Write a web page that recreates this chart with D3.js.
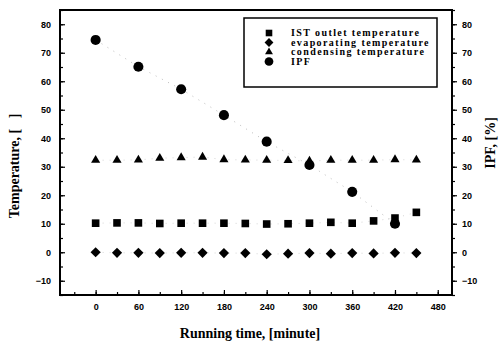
<!DOCTYPE html>
<html>
<head>
<meta charset="utf-8">
<script src="https://cdn.jsdelivr.net/npm/d3@7"></script>
<style>
  body { margin: 0; background: #fff; }
  .tick text { font-family: "Liberation Sans", Arial, sans-serif; font-weight: bold; font-size: 9px; }
  .title { font-family: "Liberation Serif", "Times New Roman", serif; font-weight: bold; font-size: 14px; }
  .leg { font-family: "Liberation Serif", "Times New Roman", serif; font-weight: bold; font-size: 10px; letter-spacing: 1.4px; }
</style>
</head>
<body>
<svg id="chart" width="500" height="347"></svg>
<script>
// time in minutes
var times = [0, 30, 60, 90, 120, 150, 180, 210, 240, 270, 300, 330, 360, 390, 420, 450];
var istOutlet = [10.2, 10.3, 10.3, 10.1, 10.2, 10.2, 10.2, 10.1, 9.9, 10.0, 10.2, 10.5, 10.2, 11.0, 12.0, 14.0];
var evaporating = [0.0, -0.2, -0.2, -0.3, -0.2, -0.2, -0.3, -0.3, -0.7, -0.5, -0.3, -0.5, -0.3, -0.4, -0.2, -0.3];
var condensing = [32.3, 32.3, 32.4, 33.0, 33.2, 33.4, 32.5, 32.4, 32.3, 32.2, 32.0, 32.3, 32.3, 32.3, 32.5, 32.4];
var ipfTimes = [0, 60, 120, 180, 240, 300, 360, 420];
var ipf = [74.5, 65.1, 57.2, 48.1, 38.8, 30.6, 21.2, 10.0];

var xTicks = [0, 60, 120, 180, 240, 300, 360, 420, 480];
var yTicks = [-10, 0, 10, 20, 30, 40, 50, 60, 70, 80];
var legendNames = ["IST outlet temperature", "evaporating temperature", "condensing temperature", "IPF"];

var svg = d3.select("#chart");
var mLeft = 60, mRight = 452, mTop = 10, mBottom = 295;

var x = d3.scaleLinear().domain([-50, 500]).range([mLeft, mRight]);
var y = d3.scaleLinear().domain([-15, 85]).range([mBottom, mTop]);
var y2 = d3.scaleLinear().domain([-15, 85]).range([mBottom, mTop]);

// minor ticks
svg.append("g").attr("transform", "translate(0," + mBottom + ")")
    .call(d3.axisTop(x).tickValues(d3.range(-30, 500, 30)).tickSize(3).tickFormat(""))
    .call(g => g.select(".domain").remove());
svg.append("g").attr("transform", "translate(" + mLeft + ",0)")
    .call(d3.axisRight(y).tickValues(d3.range(-15, 86, 5)).tickSize(3).tickFormat(""))
    .call(g => g.select(".domain").remove());
svg.append("g").attr("transform", "translate(" + mRight + ",0)")
    .call(d3.axisRight(y2).tickValues(d3.range(-15, 86, 5)).tickSize(3).tickFormat(""))
    .call(g => g.select(".domain").remove());

// major axes
svg.append("g").attr("transform", "translate(0," + mBottom + ")")
    .call(d3.axisBottom(x).tickValues(xTicks).tickSizeInner(-5).tickSizeOuter(0).tickPadding(9))
    .call(g => g.select(".domain").remove());
svg.append("g").attr("transform", "translate(" + mLeft + ",0)")
    .call(d3.axisLeft(y).tickValues(yTicks).tickSizeInner(-5).tickSizeOuter(0).tickPadding(9))
    .call(g => g.select(".domain").remove());
svg.append("g").attr("transform", "translate(" + mRight + ",0)")
    .call(d3.axisRight(y2).tickValues(yTicks).tickSize(5).tickPadding(5))
    .call(g => g.select(".domain").remove());

svg.selectAll(".tick line").attr("stroke", "#000").attr("stroke-width", 1.2);

// frame
svg.append("rect").attr("x", mLeft).attr("y", mTop)
    .attr("width", mRight - mLeft).attr("height", mBottom - mTop)
    .attr("fill", "none").attr("stroke", "#000").attr("stroke-width", 2);

// faint dotted connecting lines
var dotted = function (xs, ys, sc, col) {
    svg.append("path")
        .datum(xs.map((t, i) => [t, ys[i]]))
        .attr("fill", "none").attr("stroke", col).attr("stroke-width", 0.8)
        .attr("stroke-dasharray", "1,6")
        .attr("d", d3.line().x(d => x(d[0])).y(d => sc(d[1])));
};
dotted(times, istOutlet, y, "#ccc");
dotted(times, evaporating, y, "#ccc");
dotted(times, condensing, y, "#ccc");
dotted(ipfTimes, ipf, y2, "#aaa");

// square, diamond (rotated square), triangle, circle
var symTypes = [d3.symbolSquare, d3.symbolSquare, d3.symbolTriangle, d3.symbolCircle];
var symRot = [0, 45, 0, 0];
var symSizes = [58, 52, 36, 80];

var plot = function (xs, ys, sc, k) {
    svg.append("g").selectAll("path")
        .data(xs.map((t, i) => [t, ys[i]]))
        .enter().append("path")
        .attr("d", d3.symbol().type(symTypes[k]).size(symSizes[k]))
        .attr("fill", "#000")
        .attr("transform", d => "translate(" + x(d[0]) + "," + sc(d[1]) + ") rotate(" + symRot[k] + ")");
};
plot(times, istOutlet, y, 0);
plot(times, evaporating, y, 1);
plot(times, condensing, y, 2);
plot(ipfTimes, ipf, y2, 3);

// legend
var lg = svg.append("g");
lg.append("rect").attr("x", 244).attr("y", 18).attr("width", 193).attr("height", 69)
    .attr("fill", "#fff").attr("stroke", "#000").attr("stroke-width", 1.5);
legendNames.forEach((name, i) => {
    let ly = 33 + i * 9.5;
    lg.append("path").attr("d", d3.symbol().type(symTypes[i]).size(symSizes[i] * 0.75))
        .attr("transform", "translate(269," + ly + ") rotate(" + symRot[i] + ")").attr("fill", "#000");
    lg.append("text").attr("class", "leg").attr("x", 291).attr("y", ly + 3).text(name);
});

// titles
svg.append("text").attr("class", "title").attr("text-anchor", "middle")
    .attr("transform", "translate(19,166) rotate(-90)")
    .text("Temperature, [\u00a0\u00a0\u00a0]");
svg.append("text").attr("class", "title").attr("text-anchor", "middle")
    .attr("transform", "translate(495,143) rotate(-90)")
    .text("IPF, [%]");
svg.append("text").attr("class", "title").attr("text-anchor", "middle")
    .attr("x", 250).attr("y", 338)
    .text("Running time, [minute]");
</script>
</body>
</html>
